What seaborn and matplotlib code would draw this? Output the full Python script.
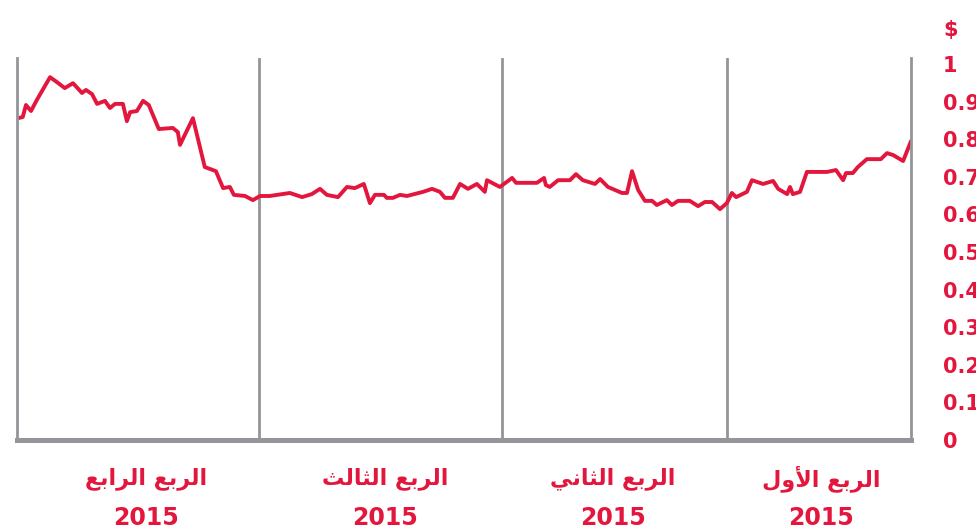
import matplotlib
matplotlib.use('Agg')
from matplotlib import pyplot as plt
import seaborn as sns
import pandas as pd

sns.set_style('white')
plt.rcParams['font.family'] = ['DejaVu Sans']

RED = '#e3173e'
GREY = '#939598'

# trading-day index counted from the start of the year (right edge), price in $
days = [0, 2.2, 5.0, 6.7, 8.4, 12.3, 14.8, 16.2, 18.1, 18.9, 20.9, 23.4, 29.0,
        30.9, 32.9, 33.7, 34.5, 37.0, 38.4, 41.2, 44.3, 45.7, 48.7, 49.9, 51.3,
        53.2, 55.4, 57.4, 59.3, 61.6, 64.9, 66.6, 68.0, 70.8, 72.1, 74.1, 76.0,
        77.7, 79.1, 80.5, 84.4, 86.6, 88.0, 91.4, 93.3, 95.0, 98.3, 100.6, 101.7,
        102.2, 104.2, 110.0, 111.1, 114.5, 118.1, 118.7, 120.9, 123.4, 125.6,
        127.6, 129.8, 131.2, 133.4, 135.9, 140.4, 142.3, 144.3, 146.0, 146.8,
        149.3, 150.7, 152.4, 154.9, 157.1, 159.6, 162.7, 164.6, 166.9, 169.6,
        173.0, 178.6, 181.3, 183.3, 185.5, 188.6, 189.7, 191.6, 193.6, 196.7,
        200.0, 203.6, 204.2, 205.6, 209.5, 212.3, 213.9, 215.6, 217.5, 218.4,
        219.5, 221.7, 223.1, 224.5, 226.7, 228.1, 229.8, 230.9, 233.4, 235.7,
        237.9, 239.8, 243.5, 245.1, 246.5, 247.4, 248.7]
price = [0.795, 0.742, 0.758, 0.763, 0.747, 0.747, 0.726, 0.710, 0.710, 0.691,
         0.718, 0.713, 0.713, 0.660, 0.654, 0.673, 0.654, 0.668, 0.689, 0.681,
         0.691, 0.660, 0.646, 0.657, 0.630, 0.614, 0.633, 0.633, 0.622, 0.636,
         0.636, 0.625, 0.638, 0.625, 0.636, 0.636, 0.665, 0.715, 0.657, 0.657,
         0.673, 0.694, 0.681, 0.691, 0.707, 0.691, 0.691, 0.673, 0.678, 0.697,
         0.684, 0.684, 0.697, 0.673, 0.691, 0.660, 0.681, 0.668, 0.681, 0.644,
         0.644, 0.660, 0.668, 0.660, 0.649, 0.652, 0.644, 0.644, 0.652, 0.652,
         0.630, 0.681, 0.670, 0.673, 0.646, 0.652, 0.668, 0.654, 0.646, 0.657,
         0.649, 0.649, 0.638, 0.649, 0.652, 0.673, 0.670, 0.715, 0.726, 0.856,
         0.785, 0.819, 0.830, 0.827, 0.891, 0.902, 0.875, 0.872, 0.848, 0.894,
         0.894, 0.883, 0.902, 0.894, 0.920, 0.931, 0.923, 0.949, 0.936, 0.952,
         0.965, 0.904, 0.875, 0.891, 0.859, 0.856]

quarter_starts = [51.3, 114, 181.5]
x_end = 249
label_pos = [25, 83, 146.5, 213]
quarter_names = ['الربع الأول', 'الربع الثاني', 'الربع الثالث', 'الربع الرابع']
year_label = '2015'
y_ticks = [0, 0.1, 0.2, 0.3, 0.4, 0.5, 0.6, 0.7, 0.8, 0.9, 1]
y_tick_labels = ['0', '0.1', '0.2', '0.3', '0.4', '0.5', '0.6', '0.7', '0.8', '0.9', '1']

# matplotlib does no arabic shaping, so pick the presentation forms by hand
FORMS = {
    '\u0627': ('\uFE8D', '\uFE8E', None, None),
    '\u0623': ('\uFE83', '\uFE84', None, None),
    '\u0644': ('\uFEDD', '\uFEDE', '\uFEDF', '\uFEE0'),
    '\u0631': ('\uFEAD', '\uFEAE', None, None),
    '\u0628': ('\uFE8F', '\uFE90', '\uFE91', '\uFE92'),
    '\u0639': ('\uFEC9', '\uFECA', '\uFECB', '\uFECC'),
    '\u062B': ('\uFE99', '\uFE9A', '\uFE9B', '\uFE9C'),
    '\u0646': ('\uFEE5', '\uFEE6', '\uFEE7', '\uFEE8'),
    '\u064A': ('\uFEF1', '\uFEF2', '\uFEF3', '\uFEF4'),
    '\u0648': ('\uFEED', '\uFEEE', None, None),
}
LAM_ALEF = {'\u0627': ('\uFEFB', '\uFEFC', None, None),
            '\u0623': ('\uFEF7', '\uFEF8', None, None)}


def _shape(word):
    units = []
    i = 0
    while i < len(word):
        if word[i] == '\u0644' and i + 1 < len(word) and word[i + 1] in LAM_ALEF:
            units.append(LAM_ALEF[word[i + 1]])
            i += 2
        else:
            units.append(FORMS[word[i]])
            i += 1
    out = []
    for k, f in enumerate(units):
        joined_before = k > 0 and units[k - 1][2] is not None
        joins_after = k + 1 < len(units) and f[2] is not None
        if joined_before and joins_after:
            out.append(f[3])
        elif joined_before:
            out.append(f[1])
        elif joins_after:
            out.append(f[2])
        else:
            out.append(f[0])
    return ''.join(out)


def rtl(text):
    return ' '.join(_shape(w) for w in text.split())[::-1]


df = pd.DataFrame({'day': days, 'price': price})

fig = plt.figure(figsize=(9.76, 5.29), dpi=100)
ax = fig.add_axes([17 / 976, 89 / 529, 894 / 976, 382 / 529])

sns.lineplot(data=df, x='day', y='price', ax=ax, color=RED, linewidth=2.8)
for q in quarter_starts:
    ax.axvline(q, color=GREY, linewidth=2.0, zorder=1)

ax.set_xlim(x_end, 0)
ax.set_ylim(0, 1.016)
ax.set_xlabel('')
ax.set_ylabel('')
ax.set_xticks([])

ax.yaxis.tick_right()
ax.set_yticks(y_ticks, labels=y_tick_labels)
ax.tick_params(axis='y', length=0, pad=23, labelsize=15, labelcolor=RED)
for t in ax.get_yticklabels():
    t.set_fontweight('bold')
    t.set_horizontalalignment('left')

ax.spines['top'].set_visible(False)
for side in ['left', 'right']:
    ax.spines[side].set_color(GREY)
    ax.spines[side].set_linewidth(2.0)
ax.spines['bottom'].set_color(GREY)
ax.spines['bottom'].set_linewidth(3.6)

fig.text(943 / 976, 1 - 30 / 529, '$', color=RED, fontsize=15, fontweight='bold',
         ha='left', va='center')

xt = ax.get_xaxis_transform()
for pos, name in zip(label_pos, quarter_names):
    ax.text(pos, -0.1, rtl(name), transform=xt, ha='center', va='center',
            color=RED, fontsize=16, fontweight='bold')
    ax.text(pos, -0.203, year_label, transform=xt, ha='center', va='center',
            color=RED, fontsize=17, fontweight='bold')

fig.savefig('out.png', dpi=100)
